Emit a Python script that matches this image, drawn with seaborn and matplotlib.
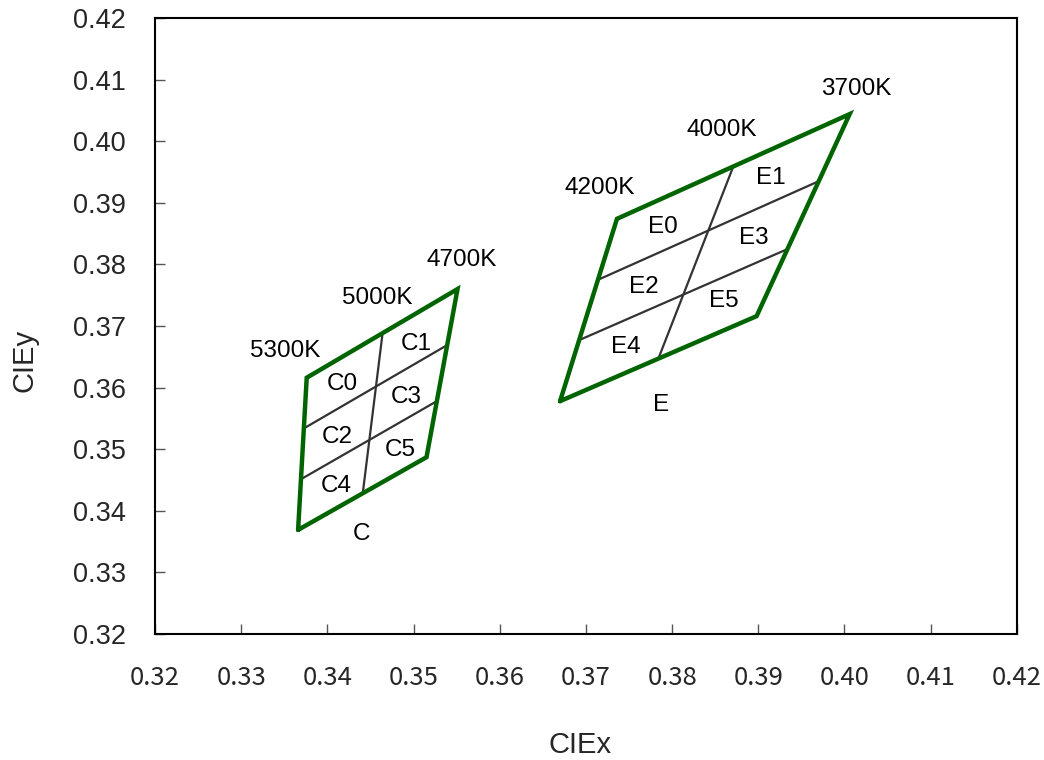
import numpy as np
import pandas as pd
import seaborn as sns
import matplotlib.pyplot as plt

# outer quadrangles (closed)
c_box_x = [0.3366, 0.3376, 0.3551, 0.3515, 0.3366]
c_box_y = [0.3369, 0.3616, 0.3760, 0.3487, 0.3369]
e_box_x = [0.3670, 0.3736, 0.4006, 0.3898, 0.3670]
e_box_y = [0.3578, 0.3874, 0.4044, 0.3716, 0.3578]

# inner dividing segments: (x0, y0, x1, y1)
c_inner = [
    (0.3441, 0.3428, 0.3464, 0.3688),
    (0.3373, 0.3534, 0.3539, 0.3669),
    (0.3369, 0.3451, 0.3527, 0.3578),
]
e_inner = [
    (0.3784, 0.3647, 0.3871, 0.3959),
    (0.3714, 0.3775, 0.3970, 0.3935),
    (0.3692, 0.3677, 0.3934, 0.3825),
]

# text labels: (text, x, y)
labels = [
    ("5300K", 0.3351, 0.3659), ("5000K", 0.3458, 0.3745), ("4700K", 0.3556, 0.3807),
    ("C", 0.3440, 0.3362),
    ("C0", 0.3417, 0.3606), ("C1", 0.3503, 0.3671), ("C2", 0.3411, 0.3520),
    ("C3", 0.3492, 0.3585), ("C4", 0.3410, 0.3440), ("C5", 0.3484, 0.3499),
    ("4200K", 0.3716, 0.3924), ("4000K", 0.3858, 0.4018), ("3700K", 0.4014, 0.4085),
    ("E", 0.3787, 0.3572),
    ("E0", 0.3789, 0.3861), ("E1", 0.3915, 0.3940), ("E2", 0.3767, 0.3763),
    ("E3", 0.3895, 0.3843), ("E4", 0.3746, 0.3666), ("E5", 0.3860, 0.3741),
]

ticks = [0.32, 0.33, 0.34, 0.35, 0.36, 0.37, 0.38, 0.39, 0.40, 0.41, 0.42]

sns.set_style("white")
plt.rcParams['font.family'] = ['Liberation Sans', 'DejaVu Sans']

fig = plt.figure(figsize=(10.44, 7.6), dpi=100)
ax = fig.add_axes([0.1485, 0.1658, 0.8255, 0.8105])

# inner lines first so the green border sits on top
for segs in (c_inner, e_inner):
    for x0, y0, x1, y1 in segs:
        seg = pd.DataFrame({"x": [x0, x1], "y": [y0, y1]})
        sns.lineplot(data=seg, x="x", y="y", sort=False, color="#333333",
                     linewidth=1.6, ax=ax, estimator=None)

for bx, by in ((c_box_x, c_box_y), (e_box_x, e_box_y)):
    box = pd.DataFrame({"x": bx, "y": by})
    sns.lineplot(data=box, x="x", y="y", sort=False, color="#006400",
                 linewidth=3.2, ax=ax, estimator=None)
    ax.lines[-1].set_solid_joinstyle("miter")

for txt, tx, ty in labels:
    ax.text(tx, ty, txt, ha="center", va="center", fontsize=17.5, color="black")

ax.set_xlim(0.32, 0.42)
ax.set_ylim(0.32, 0.42)
ax.set_xticks(ticks)
ax.set_yticks(ticks)
ax.set_xticklabels([f"{t:.2f}" for t in ticks], fontsize=18.5,
                   family=['Noto Sans CJK KR', 'DejaVu Sans'])
ax.set_yticklabels([f"{t:.2f}" for t in ticks], fontsize=19.5)
ax.tick_params(direction="in", length=7, width=1, color="#555555",
               bottom=True, left=True, top=False, right=False)
ax.tick_params(axis="x", pad=22)
ax.tick_params(axis="y", pad=21)
for sp in ax.spines.values():
    sp.set_color("black")
    sp.set_linewidth(1.5)

ax.set_xlabel("")
ax.set_ylabel("")
fig.text(580 / 1044, 1 - 745 / 760, "CIEx", fontsize=21, ha="center", va="center")
fig.text(24 / 1044, 1 - 360 / 760, "CIEy", fontsize=21, ha="center", va="center",
         rotation=90)

fig.savefig("out.png", dpi=100)
